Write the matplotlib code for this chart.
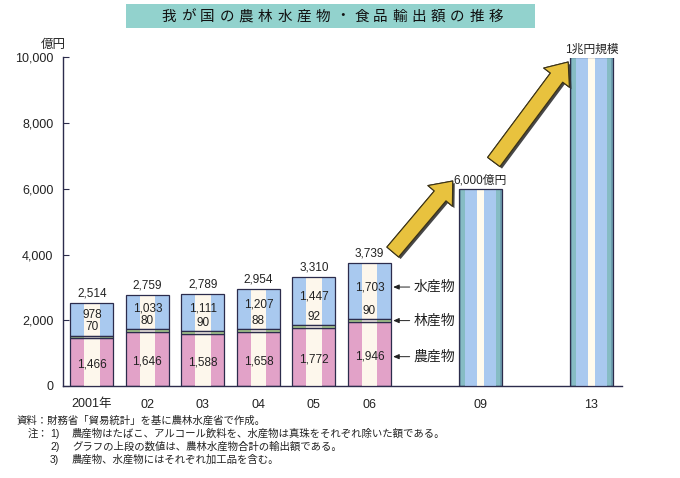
import matplotlib
matplotlib.use("Agg")
import matplotlib.pyplot as plt
from matplotlib.patches import Rectangle, FancyArrowPatch, ArrowStyle
import matplotlib.patheffects as pe

plt.rcParams['font.family'] = ['Liberation Sans', 'Noto Sans CJK JP', 'DejaVu Sans']

# ---- data ----
years = ['2001年', '02', '03', '04', '05', '06']
agri = [1466, 1646, 1588, 1658, 1772, 1946]
forest = [70, 80, 90, 88, 92, 90]
fish = [978, 1033, 1111, 1207, 1447, 1703]
totals = [2514, 2759, 2789, 2954, 3310, 3739]
target_years = ['09', '13']
targets = [6000, 10000]
target_labels = ['6,000億円', '1兆円規模']
series_names = ['農産物', '林産物', '水産物']
title = '我が国の農林水産物・食品輸出額の推移'
notes_src = '資料：財務省「貿易統計」を基に農林水産省で作成。'
notes = ['農産物はたばこ、アルコール飲料を、水産物は真珠をそれぞれ除いた額である。',
         'グラフの上段の数値は、農林水産物合計の輸出額である。',
         '農産物、水産物にはそれぞれ加工品を含む。']

W, H = 680, 478
fig = plt.figure(figsize=(W / 100, H / 100), dpi=100)
ax = fig.add_axes([63 / W, (H - 386) / H, (622 - 63) / W, (386 - 57.5) / H])

pos = [0, 1, 2, 3, 4, 5]
tpos = [7, 9]
w = 0.775
edge = '#2c2c4c'
pink = '#e2a2c8'
blue = '#a9c9ef'
green = '#b2d894'
cream = '#fdf7ec'

bottoms_f = [a for a in agri]
bottoms_fi = [a + f for a, f in zip(agri, forest)]
for vals, bot, col in [(agri, [0] * 6, pink), (forest, bottoms_f, green), (fish, bottoms_fi, blue)]:
    ax.bar(pos, vals, width=w, bottom=bot, color=col, edgecolor='none', zorder=2)
    ax.bar(pos, vals, width=w * 0.36, bottom=bot, color=cream, edgecolor='none', zorder=3)
    ax.bar(pos, vals, width=w, bottom=bot, fill=False, edgecolor=edge, lw=0.9, zorder=4)

# projection bars
ax.bar(tpos, targets, width=w, color='#6f9fb0', edgecolor='none', zorder=2)
ax.bar(tpos, targets, width=w * 0.9, color='#86bcc4', edgecolor='none', zorder=2)
ax.bar(tpos, targets, width=w * 0.7, color=blue, edgecolor='none', zorder=3)
ax.bar(tpos, targets, width=w * 0.17, color='#fffbee', edgecolor='none', zorder=3)
ax.bar(tpos, targets, width=w, fill=False, edgecolor=edge, lw=0.9, zorder=4)

fs_val = 8.5
txtc = '#222222'
for i in range(6):
    ax.text(pos[i], agri[i] / 2 - 80, f'{agri[i]:,}', ha='center', va='center', fontsize=fs_val, color=txtc, zorder=5)
    ftop = agri[i] + forest[i]
    ax.annotate(f'{forest[i]}', (pos[i], ftop), xytext=(0, 1.5), textcoords='offset points',
                ha='center', va='bottom', fontsize=fs_val, color=txtc, zorder=5)
    fy = (ftop + 370 + totals[i]) / 2 - 60
    ax.text(pos[i], fy, f'{fish[i]:,}', ha='center', va='center', fontsize=fs_val, color=txtc, zorder=5)
    ax.annotate(f'{totals[i]:,}', (pos[i], totals[i]), xytext=(0, 2.5), textcoords='offset points',
                ha='center', va='bottom', fontsize=fs_val, color=txtc, zorder=5)

for p, v, lab in zip(tpos, targets, target_labels):
    ax.annotate(lab, (p, v), xytext=(0, 1.5), textcoords='offset points',
                ha='center', va='bottom', fontsize=8.5, color=txtc, zorder=5)

# series labels beside the 06 bar
i = 5
ftop = agri[i] + forest[i]
ys = [agri[i] / 2 - 80, agri[i] + forest[i] / 2, (ftop + 370 + totals[i]) / 2 - 60]
for name, yv in zip(series_names, ys):
    ax.annotate(name, xy=(pos[i] + w / 2 + 0.04, yv), xytext=(pos[i] + 0.80, yv),
                ha='left', va='center', fontsize=10, color=txtc,
                arrowprops=dict(arrowstyle='-|>,head_length=0.35,head_width=0.15', color='#222222',
                                lw=0.7, shrinkA=1, shrinkB=0), zorder=5)

# big arrows
style = ArrowStyle.Simple(head_length=0.7, head_width=1.15, tail_width=0.55)
arrows = [((5.42, totals[5] + 340), (6.50, targets[0] + 240)),
          ((7.24, targets[0] + 820), (8.58, targets[1] - 137))]
for a, b in arrows:
    arr = FancyArrowPatch(a, b, arrowstyle=style, mutation_scale=20, shrinkA=0, shrinkB=0,
                          facecolor='#e8c23e', edgecolor='#3a3218', lw=0.8, zorder=6)
    arr.set_path_effects([pe.withSimplePatchShadow(offset=(1.5, -1.5), shadow_rgbFace='#333333', alpha=0.9),
                          pe.Normal()])
    ax.add_patch(arr)

ax.set_xlim(-0.52, 9.55)
ax.set_ylim(0, 10000)
ax.set_yticks([0, 2000, 4000, 6000, 8000, 10000])
ax.set_yticklabels([f'{v:,}' for v in [0, 2000, 4000, 6000, 8000, 10000]])
ax.set_xticks(pos + tpos)
ax.set_xticklabels(years + target_years)
ax.tick_params(axis='y', direction='in', length=4, width=0.8, color=edge, labelsize=9, pad=7, labelcolor=txtc)
ax.tick_params(axis='x', length=0, labelsize=9, pad=9, labelcolor=txtc)
for s in ['top', 'right']:
    ax.spines[s].set_visible(False)
for s in ['left', 'bottom']:
    ax.spines[s].set_color(edge)
    ax.spines[s].set_linewidth(1.0)

fig.text(53 / W, 1 - 45 / H, '億円', ha='center', va='center', fontsize=9, color=txtc)

# title
fig.patches.append(Rectangle((126 / W, 1 - 28 / H), 409 / W, 24 / H, transform=fig.transFigure,
                             facecolor='#92d2cd', edgecolor='none', zorder=0))
n = len(title)
x0, x1 = 169, 496
for k, ch in enumerate(title):
    xc = x0 + (x1 - x0) * k / (n - 1)
    fig.text(xc / W, 1 - 16.5 / H, ch, ha='center', va='center', fontsize=10.5, color='#111111')

# notes
fsn = 7.5
fig.text(17 / W, 1 - 421 / H, notes_src, ha='left', va='center', fontsize=fsn, color=txtc)
fig.text(28 / W, 1 - 434 / H, '注：', ha='left', va='center', fontsize=fsn, color=txtc)
for k, t in enumerate(notes):
    yy = 434 + 13 * k
    fig.text(50 / W, 1 - yy / H, f'{k + 1})', ha='left', va='center', fontsize=fsn, color=txtc)
    fig.text(72 / W, 1 - yy / H, t, ha='left', va='center', fontsize=fsn, color=txtc)

fig.savefig('out.png', dpi=100)
